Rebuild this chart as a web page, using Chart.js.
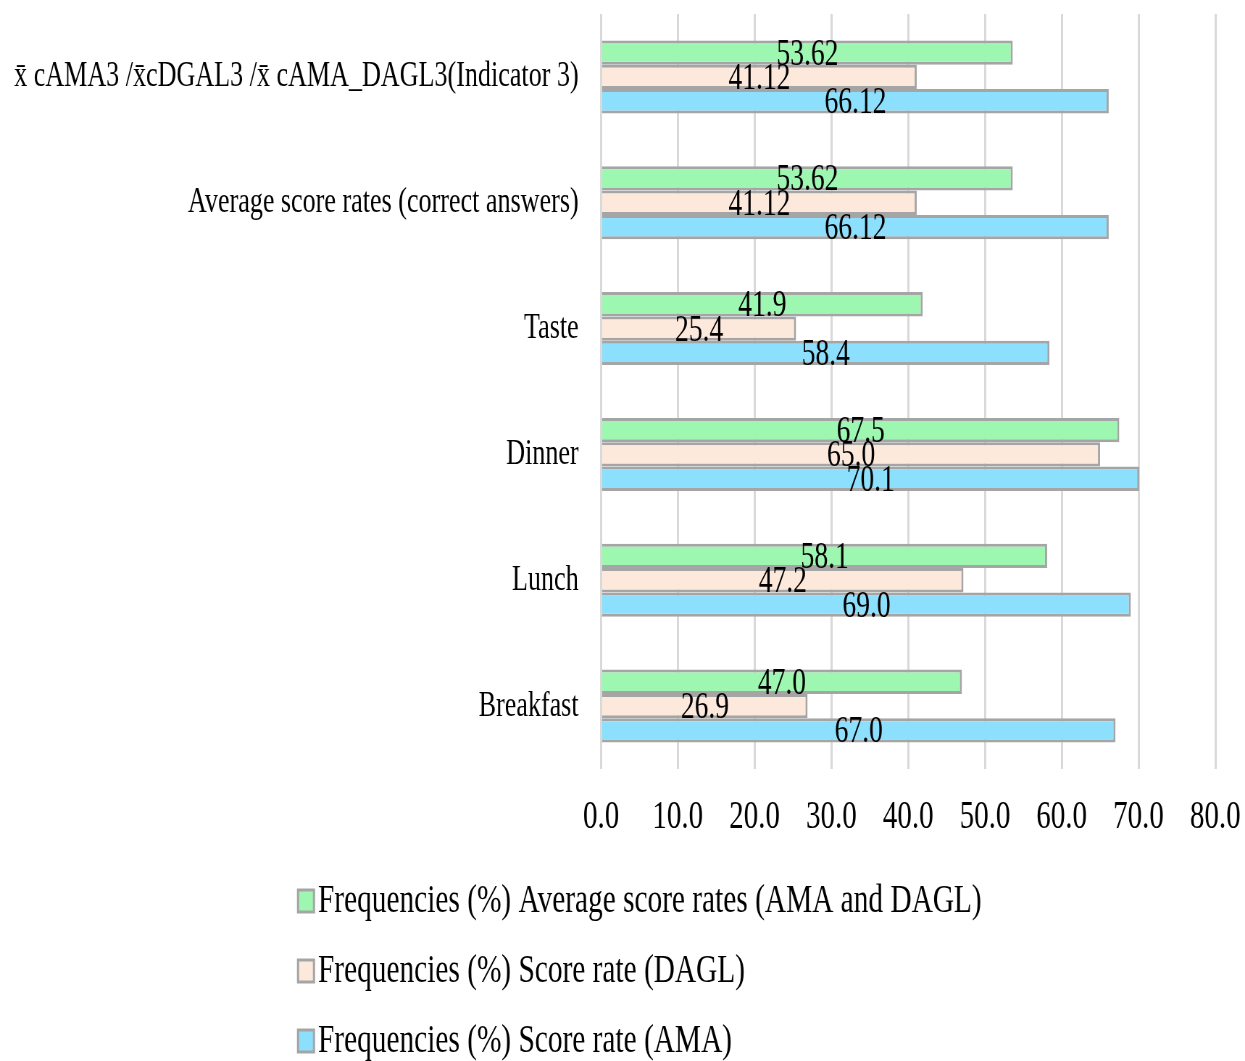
<!DOCTYPE html>
<html>
<head>
<meta charset="utf-8">
<script src="https://cdn.jsdelivr.net/npm/chart.js@4.4.1/dist/chart.umd.min.js"></script>
<style>
  html, body { margin: 0; padding: 0; background: #ffffff; overflow: hidden; }
  #wrap { position: absolute; left: 0; top: 0; height: 1061px; transform-origin: 0 0; }
</style>
</head>
<body>
<div id="wrap"><canvas id="c"></canvas></div>
<script>
// Categories, top to bottom
const categories = [
  'x\u0304 cAMA3 /x\u0304cDGAL3 /x\u0304 cAMA_DAGL3(Indicator 3)',
  'Average score rates (correct answers)',
  'Taste',
  'Dinner',
  'Lunch',
  'Breakfast'
];

// Series values (%)
const avgAmaDagl = [53.62, 53.62, 41.9, 67.5, 58.1, 47.0];
const scoreDagl  = [41.12, 41.12, 25.4, 65.0, 47.2, 26.9];
const scoreAma   = [66.12, 66.12, 58.4, 70.1, 69.0, 67.0];

// Decimal places used in each category's value labels
const labelDecimals = [2, 2, 1, 1, 1, 1];

// Axis ticks
const xTicks = [0, 10, 20, 30, 40, 50, 60, 70, 80];

const seriesNames = [
  'Frequencies (%) Average score rates (AMA and DAGL)',
  'Frequencies (%) Score rate (DAGL)',
  'Frequencies (%) Score rate (AMA)'
];

// The serif text is set narrow: the chart is drawn wide, then squeezed horizontally.
const K = 1.38;
const W = Math.round(1245 * K);
const wrap = document.getElementById('wrap');
wrap.style.width = W + 'px';
wrap.style.transform = 'scaleX(' + (1245 / W) + ')';

const FONT = "'Liberation Serif', 'Times New Roman', serif";

// Value text centred on each bar
const barValueLabels = {
  id: 'barValueLabels',
  afterDatasetsDraw(chart) {
    const ctx = chart.ctx;
    ctx.save();
    ctx.font = '38px ' + FONT;
    ctx.fillStyle = '#000000';
    ctx.textAlign = 'center';
    ctx.textBaseline = 'middle';
    chart.data.datasets.forEach((ds, di) => {
      const meta = chart.getDatasetMeta(di);
      meta.data.forEach((bar, i) => {
        const p = bar.getProps(['x', 'y', 'base'], true);
        ctx.fillText(ds.data[i].toFixed(labelDecimals[i]), (p.x + p.base) / 2, p.y + 2);
      });
    });
    ctx.restore();
  }
};

// Legend: one entry per row below the axis
const stackedLegend = {
  id: 'stackedLegend',
  afterDraw(chart) {
    const ctx = chart.ctx;
    ctx.save();
    ctx.font = '40.5px ' + FONT;
    ctx.textAlign = 'left';
    ctx.textBaseline = 'alphabetic';
    const x0 = 298 * K;
    chart.data.datasets.forEach((ds, i) => {
      const base = 912 + i * 70;
      const s = 22;
      ctx.fillStyle = ds.backgroundColor;
      ctx.fillRect(x0, base - 22, s, s);
      ctx.strokeStyle = '#a5a5a5';
      ctx.lineWidth = 3;
      ctx.strokeRect(x0, base - 22, s, s);
      ctx.fillStyle = '#000000';
      ctx.fillText(ds.label, 318 * K, base);
    });
    ctx.restore();
  }
};

new Chart(document.getElementById('c'), {
  type: 'bar',
  data: {
    labels: categories,
    datasets: [
      { label: seriesNames[0], data: avgAmaDagl, backgroundColor: '#9ef7b1' },
      { label: seriesNames[1], data: scoreDagl,  backgroundColor: '#fde9dc' },
      { label: seriesNames[2], data: scoreAma,   backgroundColor: '#8de0fd' }
    ]
  },
  options: {
    indexAxis: 'y',
    responsive: true,
    maintainAspectRatio: false,
    animation: false,
    datasets: {
      bar: {
        categoryPercentage: 0.58,
        barPercentage: 1.0,
        borderColor: '#a5a5a5',
        borderWidth: 3
      }
    },
    layout: { padding: { top: 14, right: 41, bottom: 222, left: 0 } },
    plugins: {
      legend: { display: false },
      tooltip: { enabled: false }
    },
    scales: {
      x: {
        min: 0,
        max: 80,
        afterBuildTicks(scale) { scale.ticks = xTicks.map(v => ({ value: v })); },
        afterFit(scale) { scale.height = 70; scale.paddingLeft = 0; scale.paddingRight = 0; },
        ticks: {
          callback: v => Number(v).toFixed(1),
          font: { family: FONT, size: 40 },
          color: '#000000',
          padding: 24,
          maxRotation: 0
        },
        grid: { color: '#d9d9d9', lineWidth: 3, drawTicks: false },
        border: { display: false }
      },
      y: {
        afterFit(scale) { scale.width = 601 * K; scale.paddingTop = 0; scale.paddingBottom = 0; },
        ticks: {
          font: { family: FONT, size: 36 },
          color: '#000000',
          padding: 23
        },
        grid: { display: false },
        border: { display: false }
      }
    }
  },
  plugins: [barValueLabels, stackedLegend]
});
</script>
</body>
</html>
